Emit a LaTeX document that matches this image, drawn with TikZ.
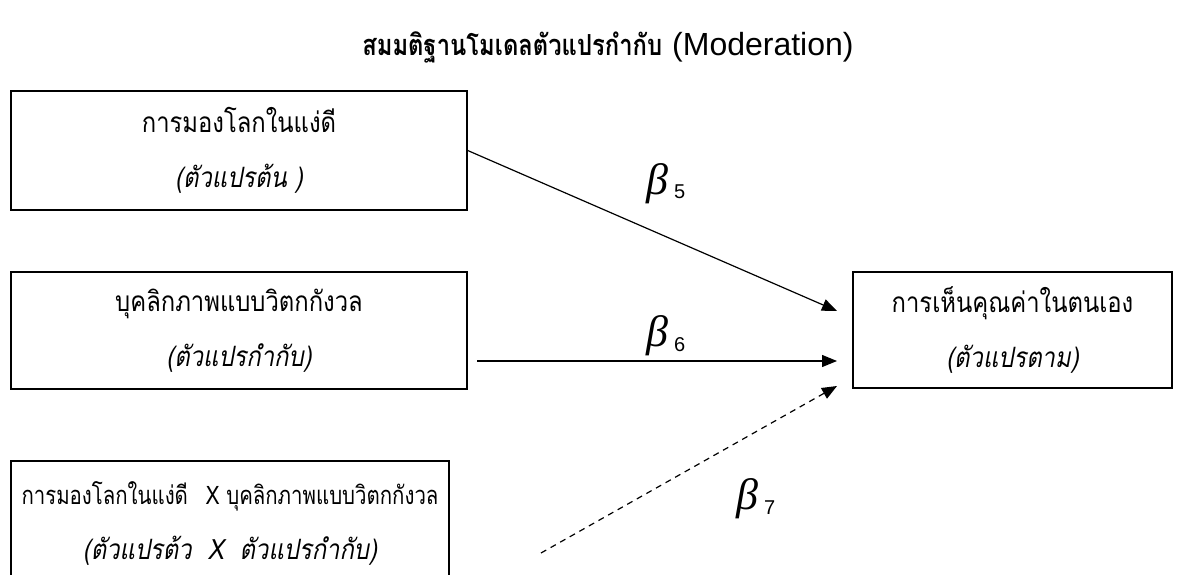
\documentclass[tikz,border=0pt]{standalone}
\usepackage{fontspec}
\setmainfont{Liberation Sans}
\newfontfamily\thaifont[Script=Thai, FakeStretch=0.85]{Loma}
\newfontfamily\thainarrow[Script=Thai, FakeStretch=0.8]{Loma}
\newfontfamily\titlefont[Script=Thai, FakeStretch=0.82]{Loma}
\newfontfamily\greekfont{Liberation Serif}
\usetikzlibrary{arrows.meta}
\tikzset{
  box/.style={draw, line width=1.4pt, inner sep=0pt, align=center,
    font=\thaifont\fontsize{28}{55}\selectfont},
  link/.style={line width=1.2pt, -{Triangle[length=15pt,width=12pt]}},
  beta/.style={inner sep=0pt, anchor=base west}
}
\newcommand{\bsym}[1]{{\greekfont\itshape\fontsize{44}{44}\selectfont β}\hspace{6pt}\raisebox{-5pt}{\fontsize{20}{20}\selectfont #1}}
\begin{document}
\begin{tikzpicture}[x=1pt,y=-1pt]
\useasboundingbox (0,0) rectangle (1184,575);
\node (title) at (608,47) {{\titlefont\bfseries\fontsize{29}{29}\selectfont สมมติฐานโมเดลตัวแปรกำกับ}\hspace{10pt}{\fontsize{32}{32}\selectfont (Moderation)}};
\node[box, minimum width=456pt, minimum height=119pt] (b1) at (239,150.5)
  {การมองโลกในแง่ดี\\ \itshape (ตัวแปรต้น )};
\node[box, minimum width=456pt, minimum height=117pt] (b2) at (239,330.5)
  {บุคลิกภาพแบบวิตกกังวล\\ \itshape (ตัวแปรกำกับ)};
\node[box, minimum width=438pt, minimum height=124pt] (b3) at (230,523)
  {\thainarrow\fontsize{25.5}{55}\selectfont การมองโลกในแง่ดี\hspace{0.7em}X บุคลิกภาพแบบวิตกกังวล\\ \thaifont\fontsize{28}{55}\selectfont\itshape (ตัวแปรต้ว \ X \ ตัวแปรกำกับ)};
\node[box, minimum width=319pt, minimum height=116pt] (b4) at (1012.5,330)
  {การเห็นคุณค่าในตนเอง\\ \itshape (ตัวแปรตาม)};
\coordinate (t1) at (837,311);
\coordinate (s2) at (477,361);
\coordinate (t2) at (837,361);
\coordinate (s3) at (541,553);
\coordinate (t3) at (837,386);
\draw[link] (b1.east) -- (t1);
\draw[link] (s2) -- (t2);
\draw[link, dashed, dash pattern=on 6pt off 5pt] (s3) -- (t3);
\node[beta] (be5) at (646,194) {\bsym{5}};
\node[beta] (be6) at (646,346) {\bsym{6}};
\node[beta] (be7) at (736,509) {\bsym{7}};
\end{tikzpicture}
\end{document}
